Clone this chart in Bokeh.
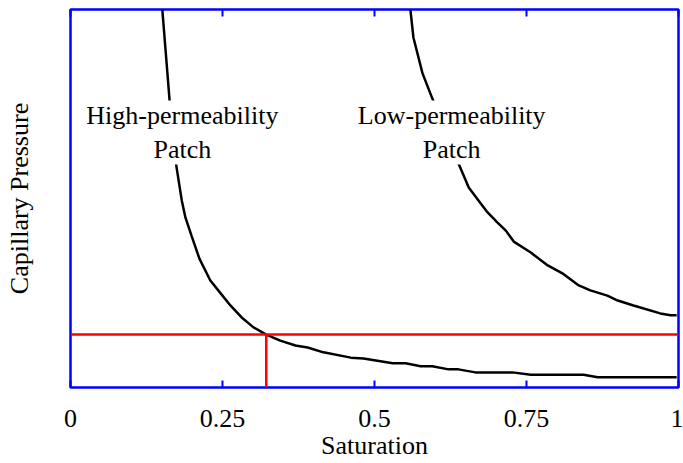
from bokeh.plotting import figure
from bokeh.models import Range1d, LinearAxis, FixedTicker, Label
from bokeh.embed import file_html
from bokeh.resources import INLINE

# High-permeability patch curve (saturation, capillary pressure, normalised)
high_sat = [0.151, 0.163, 0.174, 0.183, 0.189, 0.199, 0.212, 0.230, 0.247, 0.263,
            0.283, 0.301, 0.322, 0.345, 0.370, 0.390, 0.416, 0.461, 0.482, 0.530,
            0.551, 0.576, 0.595, 0.622, 0.638, 0.666, 0.727, 0.757, 0.844, 0.867, 0.997]
high_pc = [1.000, 0.759, 0.587, 0.495, 0.450, 0.402, 0.341, 0.283, 0.249, 0.217,
           0.183, 0.159, 0.140, 0.124, 0.111, 0.106, 0.093, 0.079, 0.077, 0.064,
           0.064, 0.056, 0.056, 0.048, 0.048, 0.040, 0.040, 0.034, 0.034, 0.027, 0.027]

# Low-permeability patch curve
low_sat = [0.559, 0.564, 0.579, 0.595, 0.638, 0.655, 0.671, 0.686, 0.702, 0.716,
           0.729, 0.757, 0.785, 0.809, 0.836, 0.855, 0.883, 0.900, 0.926, 0.970, 0.987, 0.997]
low_pc = [1.000, 0.926, 0.831, 0.765, 0.593, 0.529, 0.495, 0.463, 0.437, 0.415,
          0.386, 0.357, 0.323, 0.302, 0.270, 0.257, 0.243, 0.230, 0.217, 0.196, 0.191, 0.191]

# Crossing point (red lines)
cross_sat = 0.322
cross_pc = 0.140

x_ticks = [0, 0.25, 0.5, 0.75, 1]
x_tick_labels = ["0", "0.25", "0.5", "0.75", "1"]

FONT = "Liberation Serif"
BLUE = "#0000ff"

p = figure(width=683, height=463, x_range=Range1d(0, 1), y_range=Range1d(0, 1),
           output_backend="svg", toolbar_location=None,
           min_border_left=70, min_border_right=5, min_border_top=9, min_border_bottom=76,
           x_axis_label="Saturation", y_axis_label="Capillary Pressure")
p.grid.visible = False
p.background_fill_color = "white"
p.border_fill_color = "white"
p.outline_line_color = BLUE
p.outline_line_width = 2.5

# bottom axis
xa = p.xaxis[0]
xa.ticker = FixedTicker(ticks=x_ticks)
xa.major_label_overrides = {t: l for t, l in zip(x_ticks, x_tick_labels)}
xa.axis_line_color = None
xa.major_tick_in = 7
xa.major_tick_out = 0
xa.major_tick_line_color = BLUE
xa.major_tick_line_width = 2
xa.minor_tick_line_color = None
xa.major_label_text_font = FONT
xa.major_label_text_font_size = "26px"
xa.major_label_text_color = "black"
xa.major_label_standoff = 22
xa.axis_label_text_font = FONT
xa.axis_label_text_font_size = "26px"
xa.axis_label_text_font_style = "normal"
xa.axis_label_text_color = "black"
xa.axis_label_standoff = 1

# left axis: label only
ya = p.yaxis[0]
ya.ticker = FixedTicker(ticks=[])
ya.axis_line_color = None
ya.major_tick_line_color = None
ya.minor_tick_line_color = None
ya.major_label_standoff = 0
ya.axis_label_text_font = FONT
ya.axis_label_text_font_size = "26px"
ya.axis_label_text_font_style = "normal"
ya.axis_label_text_color = "black"
ya.axis_label_standoff = 37

# top axis: inward ticks only
ta = LinearAxis(ticker=FixedTicker(ticks=x_ticks))
ta.axis_line_color = None
ta.major_tick_in = 7
ta.major_tick_out = 0
ta.major_tick_line_color = BLUE
ta.major_tick_line_width = 2
ta.minor_tick_line_color = None
ta.major_label_overrides = {t: "" for t in x_ticks}
ta.major_label_standoff = 0
p.add_layout(ta, "above")

# curves
p.line(high_sat, high_pc, line_color="black", line_width=2.5)
p.line(low_sat, low_pc, line_color="black", line_width=2.5)

# red crossing lines
p.line([0, 1], [cross_pc, cross_pc], line_color="#ff0000", line_width=2.5)
p.line([cross_sat, cross_sat], [0, cross_pc], line_color="#ff0000", line_width=2.5)

# annotations
p.add_layout(Label(x=0.184, y=0.759, text="High-permeability\nPatch", text_align="center",
                   text_baseline="top", text_font=FONT, text_font_size="26px",
                   text_color="black", background_fill_color="white"))
p.add_layout(Label(x=0.627, y=0.759, text="Low-permeability\nPatch", text_align="center",
                   text_baseline="top", text_font=FONT, text_font_size="26px",
                   text_color="black", background_fill_color="white"))

open("out.html", "w").write(file_html(p, INLINE))
